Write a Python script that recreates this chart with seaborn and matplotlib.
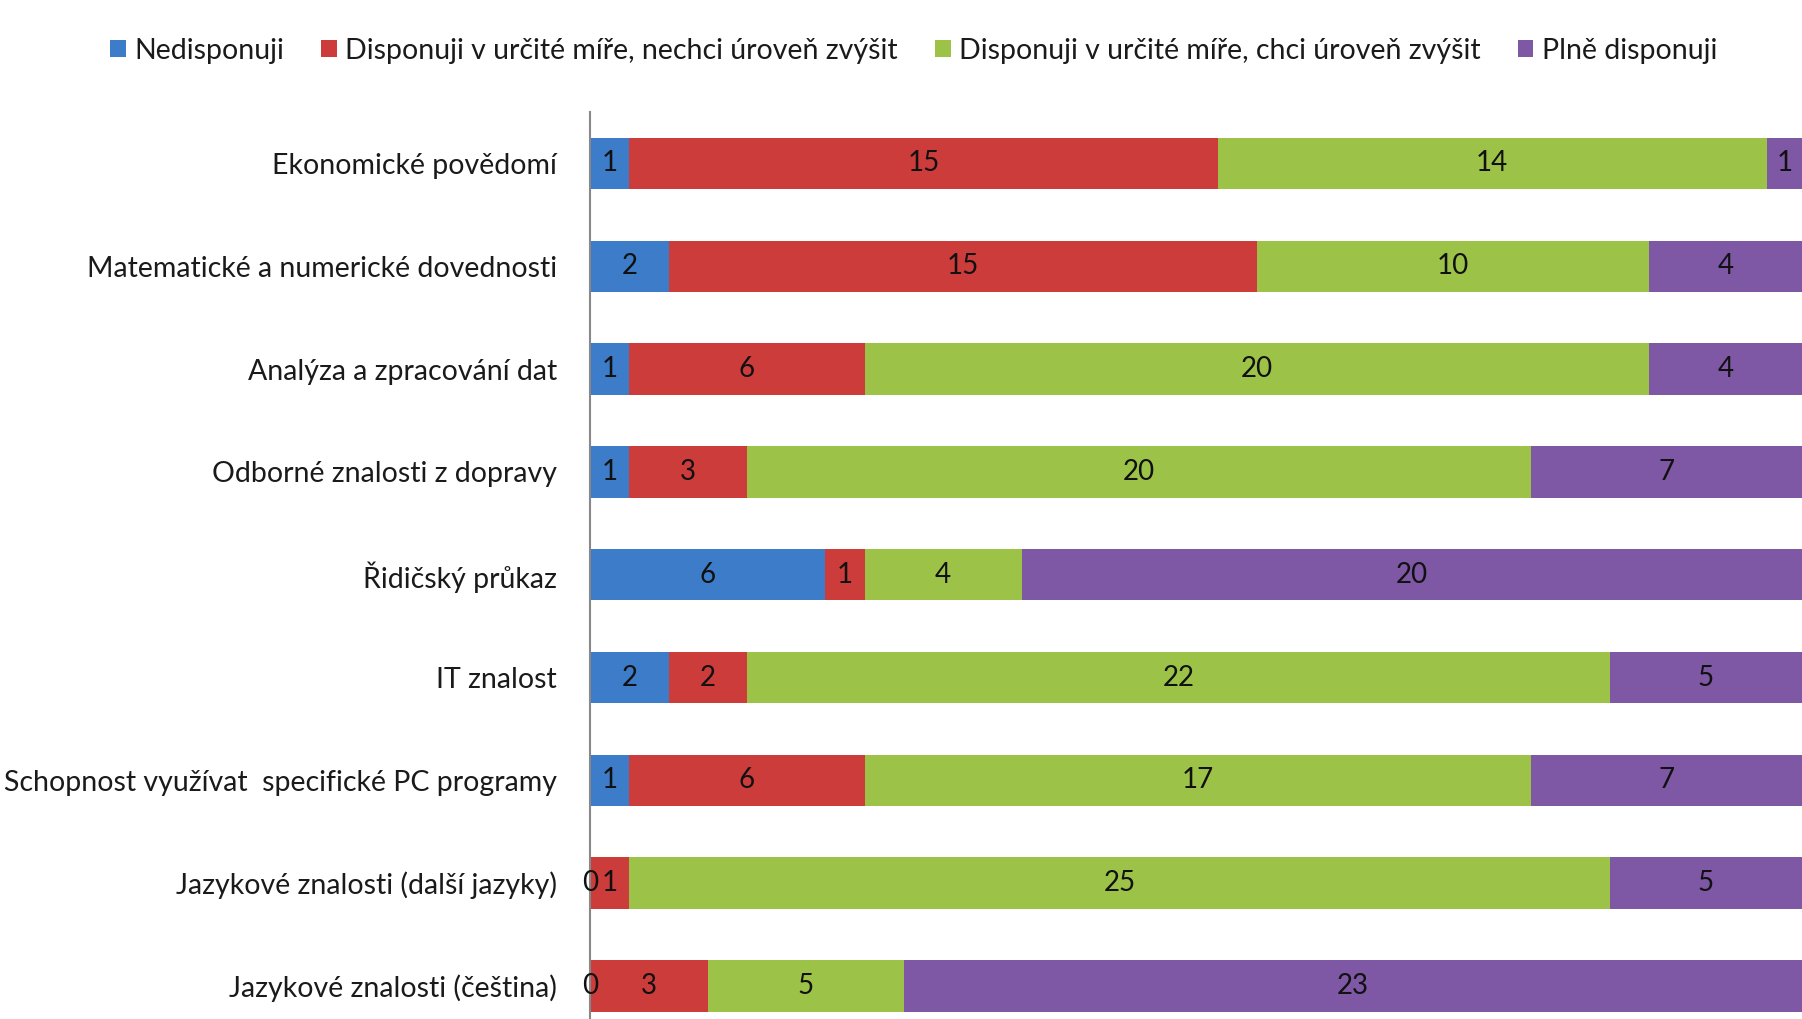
import numpy as np
import pandas as pd
import matplotlib
matplotlib.use("Agg")
import matplotlib.pyplot as plt
import seaborn as sns

categories = [
    "Ekonomické povědomí",
    "Matematické a numerické dovednosti",
    "Analýza a zpracování dat",
    "Odborné znalosti z dopravy",
    "Řidičský průkaz",
    "IT znalost",
    "Schopnost využívat  specifické PC programy",
    "Jazykové znalosti (další jazyky)",
    "Jazykové znalosti (čeština)",
]
series_names = [
    "Nedisponuji",
    "Disponuji v určité míře, nechci úroveň zvýšit",
    "Disponuji v určité míře, chci úroveň zvýšit",
    "Plně disponuji",
]
nedisponuji = [1, 2, 1, 1, 6, 2, 1, 0, 0]
nechci_zvysit = [15, 15, 6, 3, 1, 2, 6, 1, 3]
chci_zvysit = [14, 10, 20, 20, 4, 22, 17, 25, 5]
plne = [1, 4, 4, 7, 20, 5, 7, 5, 23]

colors = ["#3d7cc9", "#cc3c3a", "#9dc248", "#7e57a5"]

sns.set_style("white")
plt.rcParams["font.family"] = ["Lato", "DejaVu Sans"]

fig = plt.figure(figsize=(18.02, 10.19), dpi=100)
ax = fig.add_axes([0.3275, -0.018, 0.6725, 0.908])

values = [nedisponuji, nechci_zvysit, chci_zvysit, plne]
left = np.zeros(len(categories))
for name, vals, col in zip(series_names, values, colors):
    df = pd.DataFrame({"kategorie": categories, "pocet": vals})
    sns.barplot(data=df, x="pocet", y="kategorie", order=categories,
                color=col, saturation=1, width=0.5, left=left.copy(), label=name,
                orient="y", ax=ax, linewidth=0, errorbar=None)
    left += np.array(vals)

for cont in ax.containers:
    ax.bar_label(cont, label_type="center", fontsize=20, color="#111111",
                 labels=[str(int(round(p.get_width()))) for p in cont])

ax.set_xlim(0, 30.9)
ax.set_ylim(len(categories) - 0.5, -0.5)
ax.set_xlabel("")
ax.set_ylabel("")
ax.set_xticks([])
for s in ["top", "right", "bottom"]:
    ax.spines[s].set_visible(False)
ax.spines["left"].set_color("#888888")
ax.spines["left"].set_linewidth(1.5)
ax.tick_params(axis="y", length=0, pad=24, labelsize=20.5, labelcolor="#1a1a1a")

ax.legend(loc="center", bbox_to_anchor=(0.507, 0.95), bbox_transform=fig.transFigure,
          ncol=4, frameon=False, fontsize=20.5, handlelength=0.55, handleheight=0.55,
          handletextpad=0.3, columnspacing=1.3, labelcolor="#1a1a1a")

fig.savefig("out.png", dpi=100)
